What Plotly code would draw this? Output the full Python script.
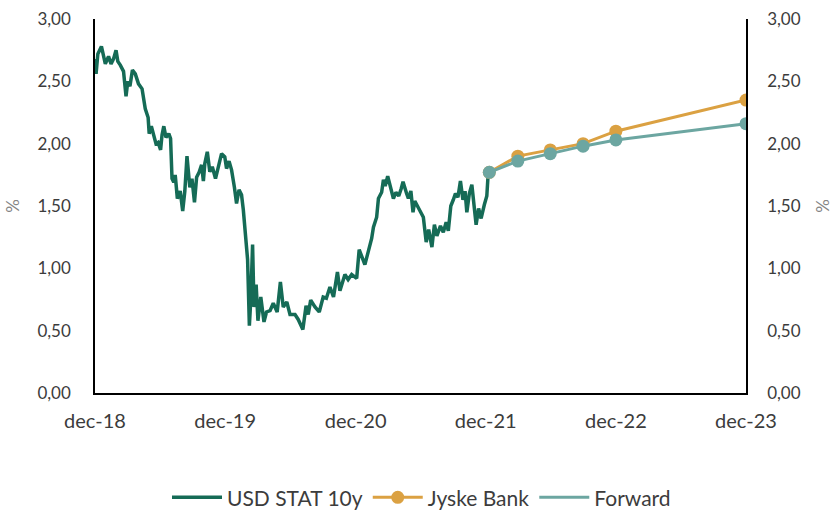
import plotly.graph_objects as go

# --- data -------------------------------------------------------------
usd_dates = [
    "2018-12-31", "2019-01-03", "2019-01-08", "2019-01-18", "2019-01-29", "2019-02-07",
    "2019-02-14", "2019-02-21", "2019-02-28", "2019-03-05", "2019-03-12", "2019-03-21",
    "2019-03-28", "2019-04-02", "2019-04-08", "2019-04-15", "2019-04-23", "2019-05-02",
    "2019-05-12", "2019-05-16", "2019-05-21", "2019-05-29", "2019-06-01", "2019-06-07",
    "2019-06-13", "2019-06-20", "2019-06-26", "2019-07-03", "2019-07-07", "2019-07-12",
    "2019-07-18", "2019-07-26", "2019-07-31", "2019-08-04", "2019-08-09", "2019-08-13",
    "2019-08-19", "2019-08-27", "2019-09-03", "2019-09-09", "2019-09-15", "2019-09-23",
    "2019-09-29", "2019-10-06", "2019-10-12", "2019-10-19", "2019-10-26", "2019-10-31",
    "2019-11-04", "2019-11-11", "2019-11-18", "2019-11-25", "2019-12-04", "2019-12-12",
    "2019-12-21", "2019-12-30", "2020-01-04", "2020-01-11", "2020-01-18", "2020-01-26",
    "2020-02-01", "2020-02-08", "2020-02-15", "2020-02-20", "2020-02-27", "2020-03-03",
    "2020-03-08", "2020-03-12", "2020-03-17", "2020-03-21", "2020-03-27", "2020-04-01",
    "2020-04-09", "2020-04-18", "2020-04-25", "2020-05-05", "2020-05-14", "2020-05-25",
    "2020-06-03", "2020-06-11", "2020-06-21", "2020-06-30", "2020-07-14", "2020-07-23",
    "2020-08-05", "2020-08-14", "2020-08-20", "2020-08-27", "2020-09-08", "2020-09-20",
    "2020-10-01", "2020-10-10", "2020-10-20", "2020-10-30", "2020-11-10", "2020-11-17",
    "2020-12-01", "2020-12-10", "2020-12-20", "2021-01-03", "2021-01-10", "2021-01-20",
    "2021-01-26", "2021-02-05", "2021-02-14", "2021-02-19", "2021-02-28", "2021-03-05",
    "2021-03-14", "2021-03-19", "2021-03-24", "2021-03-31", "2021-04-07", "2021-04-16",
    "2021-04-23", "2021-05-01", "2021-05-08", "2021-05-13", "2021-05-23", "2021-05-28",
    "2021-06-04", "2021-06-10", "2021-06-15", "2021-06-25", "2021-07-01", "2021-07-09",
    "2021-07-17", "2021-07-24", "2021-08-02", "2021-08-09", "2021-08-16", "2021-08-26",
    "2021-09-03", "2021-09-11", "2021-09-17", "2021-09-24", "2021-10-01", "2021-10-07",
    "2021-10-14", "2021-10-21", "2021-10-28", "2021-11-03", "2021-11-08", "2021-11-15",
    "2021-11-22", "2021-11-29", "2021-12-04", "2021-12-11", "2021-12-18", "2021-12-27",
    "2022-01-03", "2022-01-06", "2022-01-10",
]
usd_values = [
    2.68, 2.56, 2.72, 2.78, 2.64, 2.70,
    2.64, 2.68, 2.75, 2.66, 2.63, 2.58,
    2.38, 2.50, 2.46, 2.59, 2.56, 2.48,
    2.44, 2.38, 2.28, 2.21, 2.08, 2.14,
    2.07, 2.00, 2.01, 1.95, 2.07, 2.14,
    2.05, 2.08, 2.04, 1.72, 1.69, 1.75,
    1.56, 1.62, 1.46, 1.62, 1.90, 1.65,
    1.72, 1.53, 1.73, 1.77, 1.83, 1.70,
    1.84, 1.935, 1.775, 1.815, 1.72, 1.83,
    1.92, 1.895, 1.80, 1.86, 1.79, 1.65,
    1.52, 1.63, 1.59, 1.47, 1.23, 1.07,
    0.54, 0.75, 1.19, 0.69, 0.87, 0.58,
    0.77, 0.57, 0.65, 0.66, 0.72, 0.65,
    0.89, 0.69, 0.73, 0.63, 0.63, 0.59,
    0.51, 0.70, 0.63, 0.745, 0.69, 0.65,
    0.77, 0.76, 0.85, 0.77, 0.97, 0.82,
    0.95, 0.91, 0.95, 0.92, 1.15, 1.08,
    1.03, 1.14, 1.24, 1.33, 1.41, 1.56,
    1.61, 1.71, 1.66, 1.74, 1.66, 1.56,
    1.61, 1.58, 1.64, 1.695, 1.60, 1.56,
    1.62, 1.45, 1.54, 1.49, 1.45, 1.41,
    1.21, 1.31, 1.17, 1.35, 1.26, 1.34,
    1.29, 1.37, 1.30, 1.50, 1.55, 1.60,
    1.57, 1.70, 1.55, 1.62, 1.45, 1.60,
    1.67, 1.44, 1.35, 1.48, 1.40, 1.51,
    1.58, 1.72, 1.77,
]

forecast_dates = ["2022-01-10", "2022-03-31", "2022-06-30", "2022-09-30", "2022-12-31", "2023-12-31"]
jyske_values = [1.77, 1.90, 1.95, 2.00, 2.10, 2.35]
forward_values = [1.77, 1.86, 1.92, 1.98, 2.03, 2.16]

tick_dates = ["2018-12-31", "2019-12-31", "2020-12-31", "2021-12-31", "2022-12-31", "2023-12-31"]
tick_labels = ["dec-18", "dec-19", "dec-20", "dec-21", "dec-22", "dec-23"]
y_ticks = [0.0, 0.5, 1.0, 1.5, 2.0, 2.5, 3.0]

# --- styling ----------------------------------------------------------
C_USD = "#156B56"
C_JYSKE = "#DBA142"
C_FWD = "#6CA6A1"
FONT = "Lato"
TXT = "#3C3C3C"

fig = go.Figure()
fig.add_trace(go.Scatter(
    x=usd_dates, y=usd_values, mode="lines", name="USD STAT 10y",
    line=dict(color=C_USD, width=3.5), yaxis="y",
))
fig.add_trace(go.Scatter(
    x=forecast_dates, y=jyske_values, mode="lines+markers", name="Jyske Bank",
    line=dict(color=C_JYSKE, width=3), marker=dict(size=13, color=C_JYSKE),
    yaxis="y2",
))
fig.add_trace(go.Scatter(
    x=forecast_dates, y=forward_values, mode="lines+markers", name="Forward",
    line=dict(color=C_FWD, width=3), marker=dict(size=13, color=C_FWD),
    yaxis="y2", showlegend=False,
))
# legend-only entry for Forward (line symbol only, as in the reference)
fig.add_trace(go.Scatter(
    x=[None], y=[None], mode="lines", name="Forward",
    line=dict(color=C_FWD, width=3), yaxis="y2",
))

yaxis_common = dict(
    range=[0, 3], tickvals=y_ticks, tickformat=".2f",
    showgrid=False, zeroline=False, showline=True, linecolor="#000000", linewidth=1.5,
    ticks="outside", tickcolor="rgba(0,0,0,0)",
    tickfont=dict(family=FONT, size=17, color=TXT),
    title=dict(text="%", font=dict(family=FONT, size=17, color="#858585")),
    fixedrange=True, automargin=False,
)

fig.update_layout(
    width=833, height=511,
    margin=dict(l=95, r=87, t=19, b=118, autoexpand=False),
    paper_bgcolor="white", plot_bgcolor="white",
    separators=",.",
    showlegend=True,
    legend=dict(
        orientation="h", xref="container", x=0.506, xanchor="center",
        yref="container", y=0.026, yanchor="middle",
        font=dict(family=FONT, size=21, color=TXT), traceorder="normal",
        itemwidth=50,
    ),
    xaxis=dict(
        type="date", range=["2018-12-31", "2023-12-31"],
        tickvals=tick_dates, ticktext=tick_labels,
        showgrid=False, zeroline=False, showline=True, linecolor="#000000", linewidth=1.5,
        ticks="outside", ticklen=9, tickcolor="rgba(0,0,0,0)",
        tickfont=dict(family=FONT, size=20, color=TXT), automargin=False,
    ),
    yaxis=dict(side="left", ticklen=19, **yaxis_common),
    yaxis2=dict(side="right", overlaying="y", ticklen=16, **yaxis_common),
)
fig.layout.yaxis.title.standoff = 13
fig.layout.yaxis2.title.standoff = 17

fig.write_html(
    "out.html",
    config={"displayModeBar": False},
    post_script="document.body.style.margin='0';document.body.style.overflow='hidden';",
)
